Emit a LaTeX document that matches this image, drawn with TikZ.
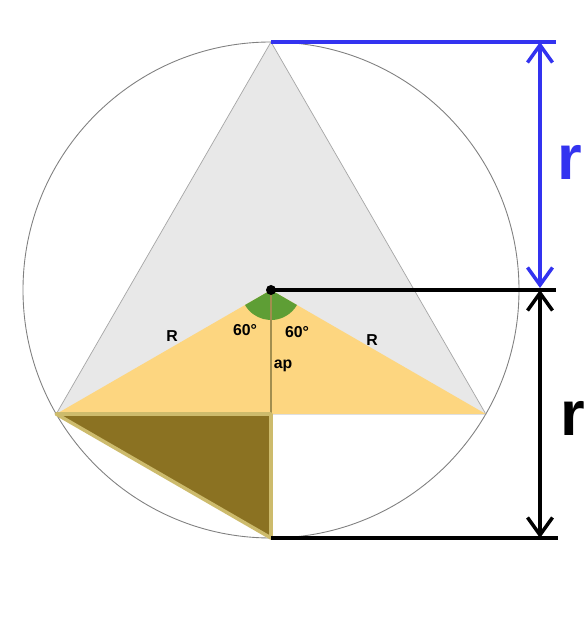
\documentclass[tikz,border=0pt]{standalone}
\usepackage{fontspec}
\setmainfont{Liberation Sans}
\usepackage{xcolor}
\usepackage{tikz}
\usetikzlibrary{arrows.meta, positioning, calc}

\definecolor{trigray}{HTML}{E8E8E8}
\definecolor{apoorange}{HTML}{FDD680}
\definecolor{anglegreen}{HTML}{5E9E35}
\definecolor{darkbrown}{HTML}{8B7222}
\definecolor{khakiedge}{HTML}{CDBB6C}
\definecolor{dimblue}{HTML}{3333F0}

\begin{document}
\begin{tikzpicture}[
    x=0.02cm, y=0.02cm,
    lbl/.style={font=\fontsize{9}{10}\selectfont\bfseries, inner sep=1pt},
    biglbl/.style={font=\fontsize{36}{38}\selectfont\bfseries, inner sep=0pt},
    dimline/.style={line width=2pt},
    dimarrow/.style={line width=2pt, {Straight Barb[length=3.5mm, width=5mm]}-{Straight Barb[length=3.5mm, width=5mm]}}
]

\clip (0,0) rectangle (588,622);
\fill[white] (0,0) rectangle (588,622);

% Points
\coordinate (O) at (271,332);
\coordinate (A) at (271,580);
\coordinate (B) at ($(O)+(210:248)$);
\coordinate (C) at ($(O)+(330:248)$);
\coordinate (M) at (271,208);
\coordinate (D) at (271,84);

% Circle and triangle
\fill[trigray] (A) -- (B) -- (C) -- cycle;
\draw[gray, line width=0.5pt] (O) circle (248);
\draw[gray!70, line width=0.4pt] (A) -- (B) -- (C) -- cycle;

% Apothem triangle
\fill[apoorange] (O) -- (B) -- (C) -- cycle;
\fill[anglegreen] (O) -- ++(210:30) arc (210:330:30) -- cycle;
\draw[darkbrown!80, line width=0.6pt] (O) -- (M);

% Brown triangle
\draw[fill=darkbrown, draw=khakiedge, line width=2pt, line join=round] (B) -- (M) -- (D) -- cycle;

% Centre dot
\fill[black] (O) circle (5);

% Labels
\node[lbl] (rl) at (172,286) {R};
\node[lbl] (rr) at (372,282) {R};
\node[lbl] (al) at (245,292) {60°};
\node[lbl] (ar) at (297,290) {60°};
\node[lbl] (ap) at (283,256) {ap};

% Dimension r (blue)
\coordinate (bt) at (556,580);
\coordinate (b1) at (540,580);
\coordinate (b2) at (540,334);
\draw[dimline, dimblue] (A) -- (bt);
\draw[dimarrow, dimblue] (b1) -- (b2);
\node[biglbl, text=dimblue] (rblue) at (570,460) {r};

% Dimension r (black)
\coordinate (ct) at (556,332);
\coordinate (cb) at (558,84);
\coordinate (k1) at (540,332);
\coordinate (k2) at (540,84);
\draw[dimline, black] (O) -- (ct);
\draw[dimline, black] (D) -- (cb);
\draw[dimarrow, black] (k1) -- (k2);
\node[biglbl, text=black] (rblack) at (573,204) {r};

\end{tikzpicture}
\end{document}
